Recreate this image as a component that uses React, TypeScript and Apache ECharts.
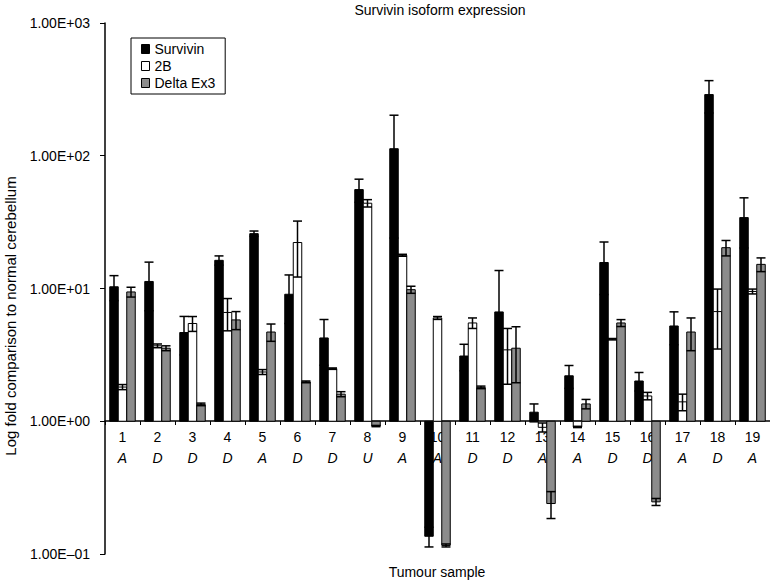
import React, { useEffect, useRef } from "react";
import * as echarts from "echarts";

const categories = ["1", "2", "3", "4", "5", "6", "7", "8", "9", "10", "11", "12", "13", "14", "15", "16", "17", "18", "19"];
const tumourTypes = ["A", "D", "D", "D", "A", "D", "D", "U", "A", "A", "D", "D", "A", "A", "D", "D", "A", "D", "A"];

const survivin = [10.3, 11.3, 4.66, 16.3, 25.9, 9.05, 4.24, 55.6, 113, 0.136, 3.1, 6.66, 1.17, 2.2, 15.7, 2.01, 5.22, 289, 34.2];
const survivinErr = [2.2, 4.5, 1.5, 1.3, 1.2, 3.6, 1.6, 11, 89, 0.023, 0.7, 7, 0.18, 0.43, 6.7, 0.32, 1.45, 79, 14];

const iso2B = [1.81, 3.7, 5.45, 6.6, 2.35, 22.2, 2.49, 43.9, 17.8, 6.0, 5.5, 3.45, 0.9, 0.906, 4.15, 1.55, 1.4, 6.7, 9.5];
const iso2BErr = [0.08, 0.12, 0.7, 1.8, 0.1, 10, 0.03, 2.8, 0.3, 0.15, 0.5, 1.55, 0.07, 0.01, 0.05, 0.1, 0.2, 3.2, 0.4];

const deltaEx3 = [9.42, 3.55, 1.34, 5.8, 4.7, 1.98, 1.6, 0.92, 9.8, 0.116, 1.8, 3.55, 0.24, 1.35, 5.5, 0.247, 4.7, 20.3, 15.2];
const deltaEx3Err = [0.8, 0.15, 0.03, 0.9, 0.7, 0.03, 0.07, 0.01, 0.6, 0.003, 0.04, 1.6, 0.055, 0.11, 0.33, 0.015, 1.3, 2.7, 1.8];

const seriesNames = ["Survivin", "2B", "Delta Ex3"];
const seriesColors = ["#000000", "#ffffff", "#8c8c8c"];

const FONT = "'Liberation Sans', Arial, Helvetica, sans-serif";

function fmtExp(v: number): string {
  const s = v.toExponential(2);
  const [m, e] = s.split("e");
  const n = parseInt(e, 10);
  const sign = n < 0 ? "\u2013" : "+";
  const abs = Math.abs(n);
  return `${m}E${sign}${abs < 10 ? "0" + abs : abs}`;
}

function makeRender(sIdx: number) {
  return (params: any, api: any) => {
    const i = api.value(0);
    const v = api.value(1);
    const e = api.value(2);
    const bw = 8.5;
    const base = api.coord([i, 1]);
    const top = api.coord([i, v]);
    const cx = base[0] + (sIdx - 1) * bw;
    const x0 = cx - bw / 2;
    const y0 = Math.min(base[1], top[1]);
    const h = Math.abs(base[1] - top[1]);
    const hi = api.coord([i, v + e])[1];
    const hasLo = v - e > 0;
    const lo = hasLo ? api.coord([i, v - e])[1] : top[1];
    const cap = 4.5;
    const ls = { stroke: "#000", lineWidth: 1.5 };
    const children: any[] = [
      {
        type: "rect",
        shape: { x: x0, y: y0, width: bw, height: h },
        style: { fill: seriesColors[sIdx], stroke: "#000", lineWidth: 1 },
      },
      { type: "line", shape: { x1: cx, y1: hi, x2: cx, y2: lo }, style: ls },
      { type: "line", shape: { x1: cx - cap, y1: hi, x2: cx + cap, y2: hi }, style: ls },
    ];
    if (hasLo) {
      children.push({ type: "line", shape: { x1: cx - cap, y1: lo, x2: cx + cap, y2: lo }, style: ls });
    }
    return { type: "group", children };
  };
}

export default function App() {
  const ref = useRef<HTMLDivElement>(null);
  useEffect(() => {
    if (!ref.current) return;
    const chart = echarts.init(ref.current, null, { renderer: "svg" });
    const values = [survivin, iso2B, deltaEx3];
    const errs = [survivinErr, iso2BErr, deltaEx3Err];
    const option: any = {
      animation: false,
      backgroundColor: "#ffffff",
      textStyle: { fontFamily: FONT },
      grid: { left: 105, top: 23, width: 665, height: 531 },
      legend: {
        orient: "vertical",
        left: 131,
        top: 38,
        icon: "rect",
        itemWidth: 8,
        itemHeight: 9,
        itemGap: 3,
        padding: [4, 10, 4, 10],
        borderColor: "#000",
        borderWidth: 1,
        textStyle: { fontFamily: FONT, fontSize: 14, color: "#000", lineHeight: 14 },
        data: seriesNames.map((n, k) => ({
          name: n,
          itemStyle: { color: seriesColors[k], borderColor: "#000", borderWidth: 1 },
        })),
      },
      xAxis: {
        type: "category",
        data: categories,
        position: "bottom",
        offset: -133,
        boundaryGap: true,
        axisLine: { lineStyle: { color: "#000", width: 1.5 } },
        axisTick: { show: true, length: 4, lineStyle: { color: "#000" } },
        axisLabel: {
          margin: 5,
          interval: 0,
          formatter: (val: string, idx: number) => `{n|${val}}\n{l|${tumourTypes[idx]}}`,
          rich: {
            n: { fontFamily: FONT, fontSize: 14, color: "#000", lineHeight: 21 },
            l: { fontFamily: FONT, fontSize: 14, color: "#000", fontStyle: "italic", lineHeight: 21 },
          },
        },
        splitLine: { show: false },
      },
      yAxis: {
        type: "log",
        logBase: 10,
        min: 0.1,
        max: 1000,
        axisLine: { show: true, lineStyle: { color: "#000", width: 1.5 } },
        axisTick: { show: true, length: 5, lineStyle: { color: "#000" } },
        minorTick: { show: false },
        splitLine: { show: false },
        axisLabel: {
          margin: 15,
          fontFamily: FONT,
          fontSize: 14,
          color: "#000",
          formatter: (v: number) => fmtExp(v),
        },
      },
      graphic: [
        {
          type: "text",
          x: 440,
          y: 10,
          style: { text: "Survivin isoform expression", fontFamily: FONT, fontSize: 14, fill: "#000", align: "center", verticalAlign: "middle" },
        },
        {
          type: "text",
          x: 437,
          y: 572,
          style: { text: "Tumour sample", fontFamily: FONT, fontSize: 14, fill: "#000", align: "center", verticalAlign: "middle" },
        },
        {
          type: "text",
          x: 10,
          y: 316,
          rotation: Math.PI / 2,
          style: { text: "Log fold comparison to normal cerebellum", fontFamily: FONT, fontSize: 15, fill: "#000", align: "center", verticalAlign: "middle" },
        },
      ],
      series: seriesNames.map((name, k) => ({
        name,
        type: "custom",
        coordinateSystem: "cartesian2d",
        renderItem: makeRender(k),
        itemStyle: { color: seriesColors[k], borderColor: "#000", borderWidth: 1 },
        encode: { x: 0, y: 1 },
        clip: false,
        data: values[k].map((v, i) => [i, v, errs[k][i]]),
      })),
    };
    chart.setOption(option);
    return () => chart.dispose();
  }, []);
  return <div ref={ref} style={{ position: "fixed", left: 0, top: 0, width: 770, height: 585 }} />;
}
